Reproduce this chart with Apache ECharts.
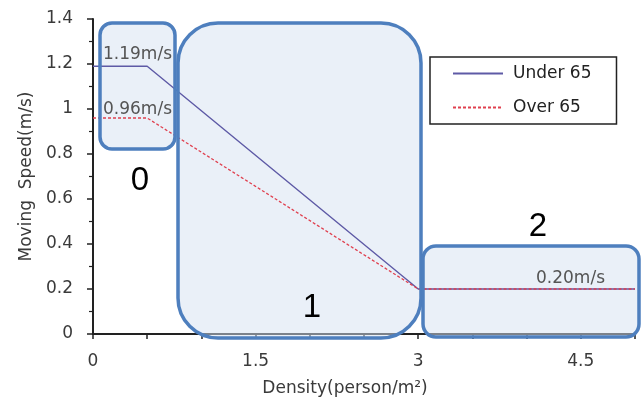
<!DOCTYPE html>
<html><head><meta charset="utf-8">
<script src="https://cdn.jsdelivr.net/npm/echarts@6/dist/echarts.min.js"></script>
<style>html,body{margin:0;padding:0;background:#fff}#c{width:641px;height:402px}</style>
</head><body><div id="c"></div>
<script>
var densities = [0, 0.5, 3, 5];
var under65 = [1.19, 1.19, 0.2, 0.2];
var over65 = [0.96, 0.96, 0.2, 0.2];
var xTickLabels = [0, 1.5, 3, 4.5];
var seriesNames = ['Under 65', 'Over 65'];
var speedLabels = ['1.19m/s', '0.96m/s', '0.20m/s'];
var zoneLabels = ['0', '1', '2'];

function pairs(xs, ys){ return xs.map(function(x,i){return [x, ys[i]];}); }

var chart = echarts.init(document.getElementById('c'));
var font = 'DejaVu Sans, sans-serif';
var boxStroke = '#4E7FBE';
var boxFill = 'rgba(214,226,242,0.5)';
var boxes = [
  {x: 100, y: 23, width: 75, height: 126, r: 12},
  {x: 178, y: 23, width: 243, height: 315, r: 40},
  {x: 423, y: 246, width: 216, height: 91, r: 13}
];
var graphics = [];
boxes.forEach(function(b){
  graphics.push({type: 'rect', z: 1, shape: b, style: {fill: boxFill, stroke: null}});
  graphics.push({type: 'rect', z: 100, shape: b, style: {fill: null, stroke: boxStroke, lineWidth: 3.5}});
});
var zoneFont = '33px Liberation Sans, sans-serif';
graphics.push(
  {type: 'text', z: 50, x: 103, y: 55, style: {text: speedLabels[0], font: '17px ' + font, fill: '#555', verticalAlign: 'middle'}},
  {type: 'text', z: 50, x: 103, y: 110, style: {text: speedLabels[1], font: '17px ' + font, fill: '#555', verticalAlign: 'middle'}},
  {type: 'text', z: 50, x: 536, y: 279, style: {text: speedLabels[2], font: '17px ' + font, fill: '#555', verticalAlign: 'middle'}},
  {type: 'text', z: 110, x: 140, y: 181, style: {text: zoneLabels[0], font: zoneFont, fill: '#000', align: 'center', verticalAlign: 'middle'}},
  {type: 'text', z: 110, x: 312, y: 308, style: {text: zoneLabels[1], font: zoneFont, fill: '#000', align: 'center', verticalAlign: 'middle'}},
  {type: 'text', z: 110, x: 538, y: 227, style: {text: zoneLabels[2], font: zoneFont, fill: '#000', align: 'center', verticalAlign: 'middle'}}
);

var option = {
  animation: false,
  textStyle: {fontFamily: font},
  grid: {left: 93, right: 6, top: 19, bottom: 65},
  xAxis: {
    type: 'value', min: 0, max: 5, interval: 0.5,
    name: 'Density(person/m²)', nameLocation: 'middle', nameGap: 46,
    nameTextStyle: {fontSize: 17, color: '#3a3a3a', fontFamily: font, padding: [0, 38, 0, 0]},
    axisLine: {lineStyle: {color: '#222', width: 2}},
    axisTick: {show: true, length: 5, lineStyle: {color: '#222', width: 1.5}},
    axisLabel: {fontSize: 17, color: '#3a3a3a', margin: 19,
      formatter: function(v){ return xTickLabels.indexOf(Math.round(v*10)/10) >= 0 ? String(v) : ''; }},
    splitLine: {show: false}
  },
  yAxis: {
    type: 'value', min: 0, max: 1.4, interval: 0.2,
    name: 'Moving  Speed(m/s)', nameLocation: 'middle', nameGap: 57,
    nameTextStyle: {fontSize: 17, color: '#3a3a3a', fontFamily: font},
    axisLine: {show: true, lineStyle: {color: '#222', width: 2}},
    axisTick: {show: true, length: 6, lineStyle: {color: '#222', width: 1.5}},
    minorTick: {show: true, splitNumber: 2, length: 4, lineStyle: {color: '#222', width: 1.2}},
    axisLabel: {fontSize: 17, color: '#3a3a3a', margin: 20},
    splitLine: {show: false}
  },
  legend: {
    orient: 'vertical', left: 430, top: 57,
    padding: [8, 25, 8, 22], itemGap: 17,
    itemWidth: 50, itemHeight: 14,
    borderColor: '#222', borderWidth: 1.5, backgroundColor: '#fff',
    itemStyle: {opacity: 0},
    textStyle: {fontSize: 17, color: '#222', fontFamily: font, padding: [0, 0, 0, 5]},
    data: seriesNames
  },
  series: [
    {name: seriesNames[0], type: 'line', symbol: 'none', data: pairs(densities, under65),
     lineStyle: {color: '#5E5AA6', width: 1.4}, itemStyle: {color: '#5E5AA6'}, z: 3},
    {name: seriesNames[1], type: 'line', symbol: 'none', data: pairs(densities, over65),
     lineStyle: {color: '#E0404F', width: 1.3, type: [3, 2]}, itemStyle: {color: '#E0404F'}, z: 3}
  ],
  graphic: graphics
};
chart.setOption(option);
</script></body></html>
